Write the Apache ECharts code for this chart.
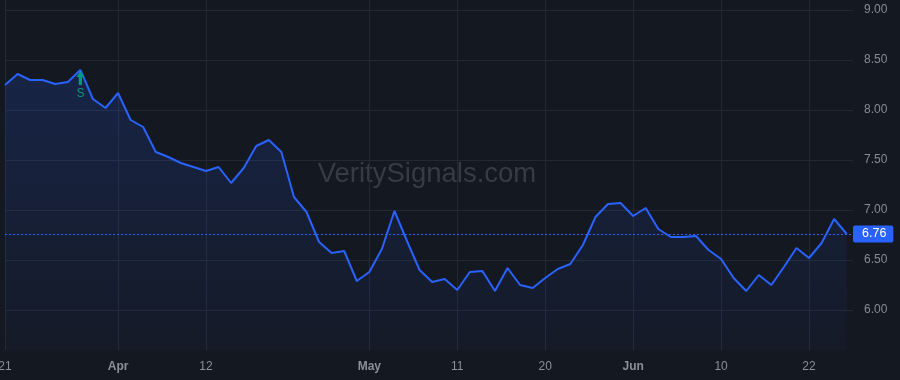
<!DOCTYPE html>
<html>
<head>
<meta charset="utf-8">
<script src="https://cdn.jsdelivr.net/npm/echarts@6/dist/echarts.min.js"></script>
<style>
  html, body { margin: 0; padding: 0; background: #141821; }
  #chart { width: 900px; height: 380px; }
</style>
</head>
<body>
<div id="chart"></div>
<script>
// Price per bar (index = bar number)
const prices = [
  8.25, 8.36, 8.30, 8.30, 8.26, 8.28, 8.40, 8.11, 8.02, 8.17,
  7.90, 7.83, 7.58, 7.53, 7.47, 7.43, 7.39, 7.43, 7.27, 7.42,
  7.64, 7.70, 7.58, 7.13, 6.98, 6.68, 6.57, 6.59, 6.29, 6.38,
  6.61, 6.99, 6.69, 6.40, 6.28, 6.31, 6.20, 6.38, 6.39, 6.19,
  6.42, 6.25, 6.22, 6.32, 6.41, 6.46, 6.65, 6.93, 7.06, 7.07,
  6.94, 7.02, 6.81, 6.73, 6.73, 6.74, 6.60, 6.51, 6.32, 6.19,
  6.35, 6.25, 6.43, 6.62, 6.52, 6.67, 6.91, 6.76
];
// X tick positions (bar index) and their labels
const xTickIndex = [0, 9, 16, 29, 36, 43, 50, 57, 64];
const xTickLabels = ['21', 'Apr', '12', 'May', '11', '20', 'Jun', '10', '22'];
// Y tick values
const yTickValues = [6.0, 6.5, 7.0, 7.5, 8.0, 8.5, 9.0];
// Signals
const signalIndex = [6];
const signalLabels = ['S'];

const seriesData = prices.map((v, i) => [i, v]);
const lastPrice = prices[prices.length - 1];

const chart = echarts.init(document.getElementById('chart'), null, { renderer: 'canvas' });
chart.setOption({
  backgroundColor: '#141821',
  animation: false,
  textStyle: { fontFamily: 'Liberation Sans, Arial, sans-serif' },
  grid: { left: 5, right: 47, top: 0, bottom: 30, containLabel: false, outerBoundsMode: 'none' },
  graphic: [{
    type: 'text',
    z: 0,
    x: 427, y: 174,
    style: {
      text: 'VeritySignals.com',
      x: 0, y: 0,
      fill: '#373b46',
      fontSize: 27.5,
      fontFamily: 'Liberation Sans, Arial, sans-serif',
      textAlign: 'center',
      textVerticalAlign: 'middle'
    }
  }],
  xAxis: {
    type: 'value',
    min: 0,
    max: 67.5,
    axisLine: { show: false },
    axisTick: { show: false, customValues: xTickIndex },
    splitLine: { show: true, lineStyle: { color: '#242834', width: 1 } },
    axisLabel: {
      customValues: xTickIndex,
      margin: 11,
      color: '#8b8f98',
      fontSize: 12,
      hideOverlap: false,
      formatter: function (v) {
        const k = xTickIndex.indexOf(Math.round(v));
        if (k < 0) return '';
        const t = xTickLabels[k];
        return /^[A-Za-z]/.test(t) ? '{b|' + t + '}' : t;
      },
      rich: { b: { fontWeight: 'bold', color: '#8b8f98', fontSize: 12 } }
    }
  },
  yAxis: {
    type: 'value',
    position: 'right',
    min: 5.6,
    max: 9.1,
    axisLine: { show: false },
    axisTick: { show: false, customValues: yTickValues },
    splitLine: { show: true, lineStyle: { color: '#242834', width: 1 } },
    axisLabel: {
      customValues: yTickValues,
      margin: 11,
      color: '#878b94',
      fontSize: 12,
      formatter: v => v.toFixed(2)
    }
  },
  series: [{
    type: 'line',
    data: seriesData,
    showSymbol: false,
    symbol: 'none',
    z: 3,
    lineStyle: { color: '#2962ff', width: 2 },
    areaStyle: {
      color: new echarts.graphic.LinearGradient(0, 0, 0, 1, [
        { offset: 0, color: 'rgba(41,98,255,0.24)' },
        { offset: 1, color: 'rgba(41,98,255,0.04)' }
      ])
    },
    markLine: {
      silent: true,
      symbol: ['none', 'none'],
      lineStyle: { color: '#2962ff', type: [2, 2], width: 1 },
      label: {
        show: true,
        position: 'end',
        distance: 0,
        formatter: p => p.value.toFixed(2),
        backgroundColor: '#2962ff',
        color: '#ffffff',
        fontSize: 12.5,
        padding: [2, 7, 2, 9],
        borderRadius: 2
      },
      data: [{ yAxis: lastPrice }]
    },
    markPoint: {
      silent: true,
      symbol: 'path://M4,0 L8,6 L5.6,6 L5.6,14 L2.4,14 L2.4,6 L0,6 Z',
      symbolSize: [8, 14],
      symbolOffset: [0, 8],
      itemStyle: { color: '#089981' },
      label: {
        show: true,
        position: 'bottom',
        distance: 3,
        color: '#089981',
        fontSize: 12
      },
      data: signalIndex.map((idx, k) => ({
        coord: [idx, prices[idx]],
        value: signalLabels[k],
        label: { formatter: signalLabels[k] }
      }))
    }
  }]
});
</script>
</body>
</html>
